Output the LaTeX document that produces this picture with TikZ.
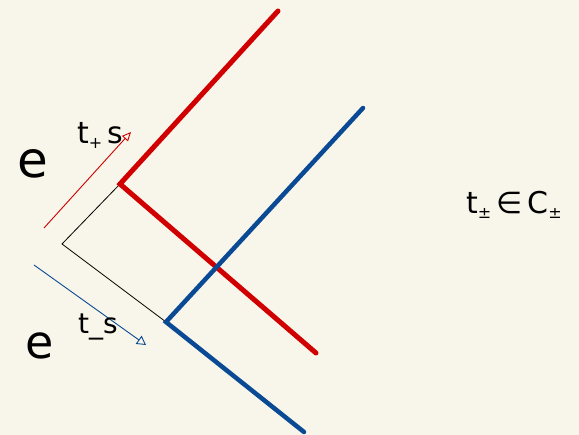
\documentclass[tikz,border=0pt]{standalone}
\usepackage{fontspec}
\setmainfont{DejaVu Sans}
\usetikzlibrary{arrows.meta}
\definecolor{bg}{HTML}{F8F5EA}
\definecolor{myred}{HTML}{D00000}
\definecolor{myblue}{HTML}{0A4A94}
\newcommand{\subsz}[1]{{\fontsize{16}{16}\selectfont\raisebox{-5pt}{#1}}}
\begin{document}
\begin{tikzpicture}[x=1pt,y=-1pt,
  redline/.style={myred,line width=5pt,line cap=round},
  blueline/.style={myblue,line width=4.5pt,line cap=round},
  blackline/.style={black,line width=0.8pt},
  hand/.style={inner sep=0pt,font=\fontsize{#1}{#1}\selectfont},
  hand/.default=30]
\fill[bg] (0,0) rectangle (579,435);
\useasboundingbox (0,0) rectangle (579,435);
\coordinate (v) at (62,244);
\coordinate (a) at (120,184);
\coordinate (b) at (166,322);
\coordinate (r1) at (278,11);
\coordinate (r2) at (316,353);
\coordinate (b1) at (363,108);
\coordinate (b2) at (304,432);
\coordinate (ra0) at (44,228);
\coordinate (ra1) at (131,132);
\coordinate (ba0) at (34,265);
\coordinate (ba1) at (146,345);
\draw[blackline] (a) -- (v) -- (b);
\draw[redline] (r1) -- (a) -- (r2);
\draw[blueline] (b1) -- (b) -- (b2);
\draw[myred,line width=0.9pt,-{Triangle[open,length=9pt,width=8pt]}] (ra0) -- (ra1);
\draw[myblue,line width=0.9pt,-{Triangle[open,length=9pt,width=10pt]}] (ba0) -- (ba1);
\node[hand=50] (e1) at (33,164) {e};
\node[hand=30] (t1) at (100,135) {t\subsz{+}\,s};
\node[hand=46] (e2) at (40,346) {e};
\node[hand=28] (t2) at (98,327) {t\_s};
\node[hand=30] (tc) at (514,205) {t\subsz{±}\,∈\,C\subsz{±}};
\end{tikzpicture}
\end{document}
